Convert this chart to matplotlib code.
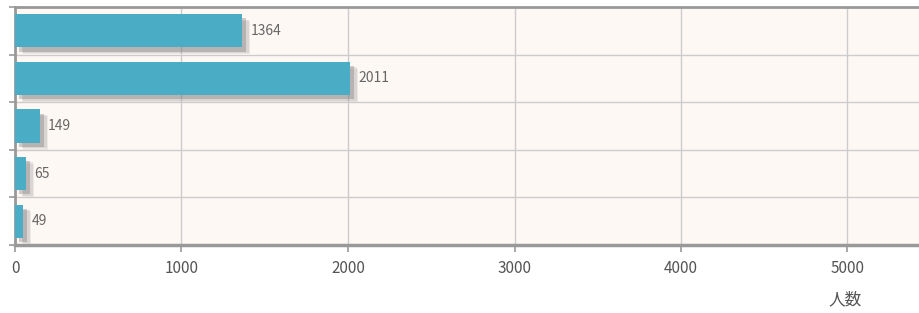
import numpy as np
import matplotlib.pyplot as plt
import matplotlib.patheffects as pe

plt.rcParams['font.family'] = ['Noto Sans CJK JP', 'DejaVu Sans']

counts = [1364, 2011, 149, 65, 49]
x_ticks = [0, 1000, 2000, 3000, 4000, 5000]
x_label = '人数'

W, H = 919, 313
fig = plt.figure(figsize=(W / 100, H / 100), dpi=100)
fig.patch.set_facecolor('white')

# axes runs past the right edge, as in the cropped original
px_per_unit = 0.1665
ax_left, ax_bottom, ax_top = 15, 245, 7
ax_w = 6000 * px_per_unit
ax = fig.add_axes([ax_left / W, (H - ax_bottom) / H, ax_w / W, (ax_bottom - ax_top) / H])
ax.set_facecolor('#fef8f4')

ypos = np.arange(len(counts))
shadow = [pe.SimplePatchShadow(offset=(6, -5), shadow_rgbFace='#999999', alpha=0.15),
          pe.SimplePatchShadow(offset=(5, -4), shadow_rgbFace='#888888', alpha=0.2),
          pe.SimplePatchShadow(offset=(3, -3), shadow_rgbFace='#666666', alpha=0.3),
          pe.Normal()]
bars = ax.barh(ypos, counts, height=0.7, color='#4aacc5', zorder=3)
for b in bars:
    b.set_path_effects(shadow)

for y, v in zip(ypos, counts):
    ax.annotate(str(v), (v, y), xytext=(6, 0), textcoords='offset points',
                va='center', ha='left', fontsize=10, color='#666666', zorder=4)

ax.set_xlim(0, 6000)
ax.set_ylim(len(counts) - 0.5, -0.5)
ax.set_xticks(x_ticks)
ax.set_xticklabels([str(t) for t in x_ticks], fontsize=11, color='#555555')
ax.set_xticks([6000], minor=True)
ax.set_yticks(np.arange(len(counts) + 1) - 0.5)
ax.set_yticklabels([])
ax.tick_params(axis='x', direction='out', length=5, width=1.2, color='#999999', pad=6)
ax.tick_params(axis='y', direction='out', length=4, width=1.2, color='#999999')

ax.grid(True, color='#cccccc', linewidth=1, zorder=0)
ax.set_axisbelow(True)
for s in ['top', 'bottom', 'left']:
    ax.spines[s].set_color('#999999')
ax.spines['top'].set_linewidth(2)
ax.spines['bottom'].set_linewidth(2.5)
ax.spines['left'].set_linewidth(2)
ax.spines['right'].set_visible(False)

fig.text(845 / W, 1 - 300 / H, x_label, ha='center', va='center', fontsize=12, color='#555555')

fig.savefig('out.png', dpi=100)
